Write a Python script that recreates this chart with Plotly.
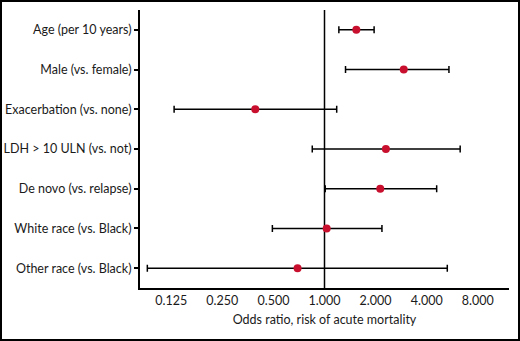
import plotly.graph_objects as go

labels = ["Age (per 10 years)", "Male (vs. female)", "Exacerbation (vs. none)",
          "LDH > 10 ULN (vs. not)", "De novo (vs. relapse)", "White race (vs. Black)",
          "Other race (vs. Black)"]
odds = [1.54, 2.93, 0.391, 2.30, 2.13, 1.03, 0.694]
ci_low = [1.215, 1.33, 0.130, 0.847, 1.01, 0.493, 0.0904]
ci_high = [1.96, 5.41, 1.18, 6.30, 4.58, 2.18, 5.29]
tick_vals = [0.125, 0.25, 0.5, 1, 2, 4, 8]
tick_text = ["0.125", "0.250", "0.500", "1.000", "2.000", "4.000", "8.000"]

W, H = 520, 341
ML, MR, MT, MB = 140, 11, 10, 53
pw, ph = W - ML - MR, H - MT - MB

fig = go.Figure()
fig.add_trace(go.Scatter(
    x=odds, y=labels, mode="markers",
    marker=dict(color="#c8102e", size=8),
    error_x=dict(type="data", symmetric=False,
                 array=[h - o for h, o in zip(ci_high, odds)],
                 arrayminus=[o - l for o, l in zip(odds, ci_low)],
                 color="black", thickness=1.5, width=3.5),
    showlegend=False,
))
fig.add_shape(type="line", xref="x", yref="paper", x0=1, x1=1, y0=0, y1=1,
              line=dict(color="black", width=1.5), layer="below")
# outer border
fig.add_shape(type="rect", xref="paper", yref="paper",
              x0=(1 - ML) / pw, x1=(W - 1 - ML) / pw,
              y0=-(MB - 1) / ph, y1=(ph + MT - 1) / ph,
              line=dict(color="black", width=2))

fig.update_layout(
    width=W, height=H,
    margin=dict(l=ML, r=MR, t=MT, b=MB),
    paper_bgcolor="white", plot_bgcolor="white",
    font=dict(family="Lato", size=12.5, color="#1a1a1a"),
    xaxis=dict(type="log", range=[-1.087, 1.087], tickvals=tick_vals, ticktext=tick_text,
               showgrid=False, zeroline=False, showline=True, linecolor="black", linewidth=2,
               ticks="", tickfont=dict(size=12.5), automargin=False,
               title=dict(text="Odds ratio, risk of acute mortality", font=dict(size=12.5), standoff=8)),
    yaxis=dict(type="category", categoryorder="array", categoryarray=labels,
               range=[6.5, -0.5], showgrid=False, zeroline=False, showline=True,
               linecolor="black", linewidth=2, ticks="outside", ticklen=4, tickwidth=1.5,
               tickcolor="black", tickfont=dict(size=12.5), automargin=False),
)
fig.write_html("out.html", config={"displayModeBar": False},
               post_script="document.body.style.margin='0';")
